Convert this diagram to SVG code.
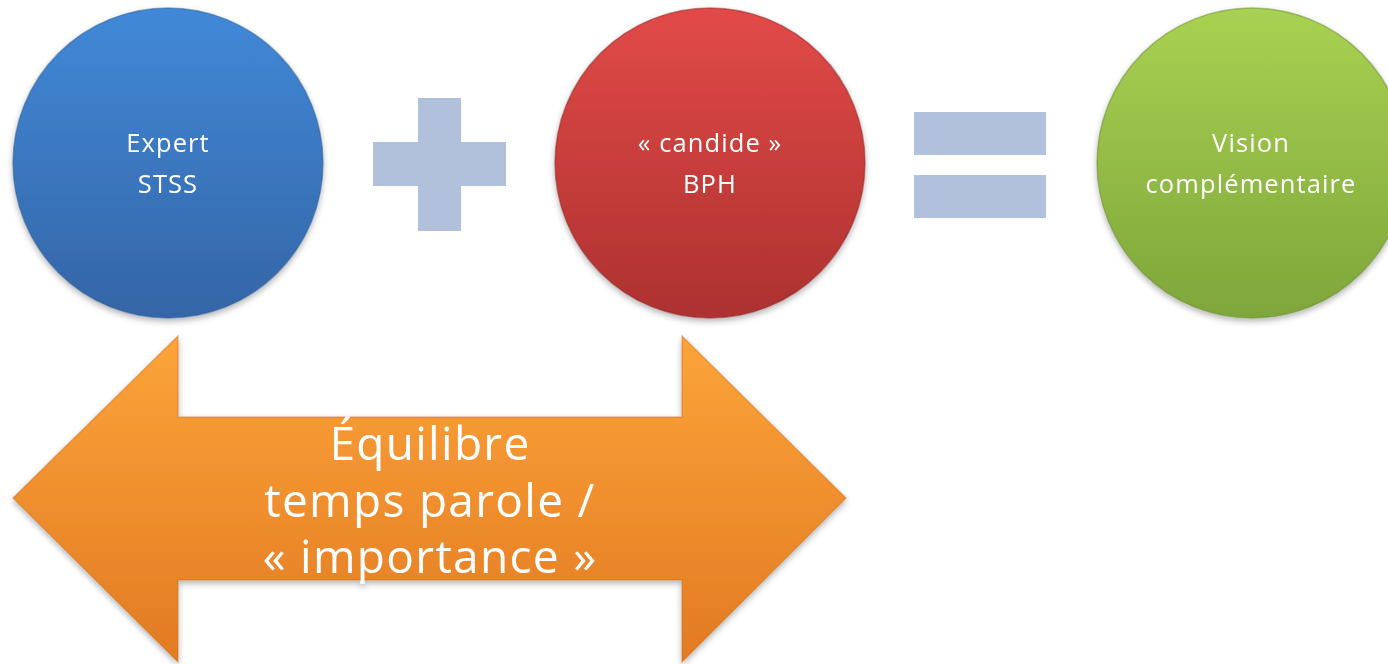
<svg xmlns="http://www.w3.org/2000/svg" width="1388" height="664" viewBox="0 0 1388 664">
<style>
.lbl{font-family:"Open Sans","Liberation Sans",sans-serif;fill:#ffffff;text-anchor:middle;font-size:25.5px;letter-spacing:1.1px}
.big{font-family:"Open Sans","Liberation Sans",sans-serif;fill:#ffffff;text-anchor:middle;font-size:46px;letter-spacing:1.3px}
.op{fill:#b1c1db}
</style>
<defs>
<linearGradient id="gBlue" x1="0" y1="0" x2="0" y2="1"><stop offset="0" stop-color="#4189d8"/><stop offset="1" stop-color="#3465a6"/></linearGradient>
<linearGradient id="gRed" x1="0" y1="0" x2="0" y2="1"><stop offset="0" stop-color="#e24a48"/><stop offset="1" stop-color="#ad3130"/></linearGradient>
<linearGradient id="gGreen" x1="0" y1="0" x2="0" y2="1"><stop offset="0" stop-color="#a9d152"/><stop offset="1" stop-color="#7ea63a"/></linearGradient>
<linearGradient id="gOrange" x1="0" y1="0" x2="0" y2="1"><stop offset="0" stop-color="#fca43a"/><stop offset="1" stop-color="#e27a22"/></linearGradient>
<filter id="sh" x="-10%" y="-10%" width="120%" height="125%"><feDropShadow dx="0" dy="3" stdDeviation="3" flood-color="#000" flood-opacity="0.3"/></filter>
</defs>
<g id="expert" filter="url(#sh)">
<circle cx="168" cy="163" r="155" fill="url(#gBlue)" stroke="#2f5d98" stroke-opacity="0.5" stroke-width="1.5"/>
<text class="lbl" x="168" y="152">Expert</text>
<text class="lbl" x="168" y="193">STSS</text>
</g>
<g id="plus"><rect class="op" x="418" y="98" width="43" height="133"/><rect class="op" x="373" y="142" width="133" height="44"/></g>
<g id="candide" filter="url(#sh)">
<circle cx="710" cy="163" r="155" fill="url(#gRed)" stroke="#8e2828" stroke-opacity="0.5" stroke-width="1.5"/>
<text class="lbl" x="710" y="152">« candide »</text>
<text class="lbl" x="710" y="193">BPH</text>
</g>
<g id="equals"><rect class="op" x="914" y="112" width="132" height="43"/><rect class="op" x="914" y="175" width="132" height="43"/></g>
<g id="vision" filter="url(#sh)">
<circle cx="1252" cy="163" r="155" fill="url(#gGreen)" stroke="#6a8c30" stroke-opacity="0.5" stroke-width="1.5"/>
<text class="lbl" x="1251" y="152">Vision</text>
<text class="lbl" x="1251" y="193">complémentaire</text>
</g>
<g id="equilibre" filter="url(#sh)">
<path d="M13,498 L178,336 L178,417 L682,417 L682,336 L846,498 L682,662 L682,580 L178,580 L178,662 Z" fill="url(#gOrange)" stroke="#c96a1a" stroke-opacity="0.4" stroke-width="1.5"/>
<text class="big" x="430" y="460">Équilibre</text>
<text class="big" x="430" y="517">temps parole /</text>
<text class="big" x="430" y="573">« importance »</text>
</g>
<g id="connectors"/>
</svg>
